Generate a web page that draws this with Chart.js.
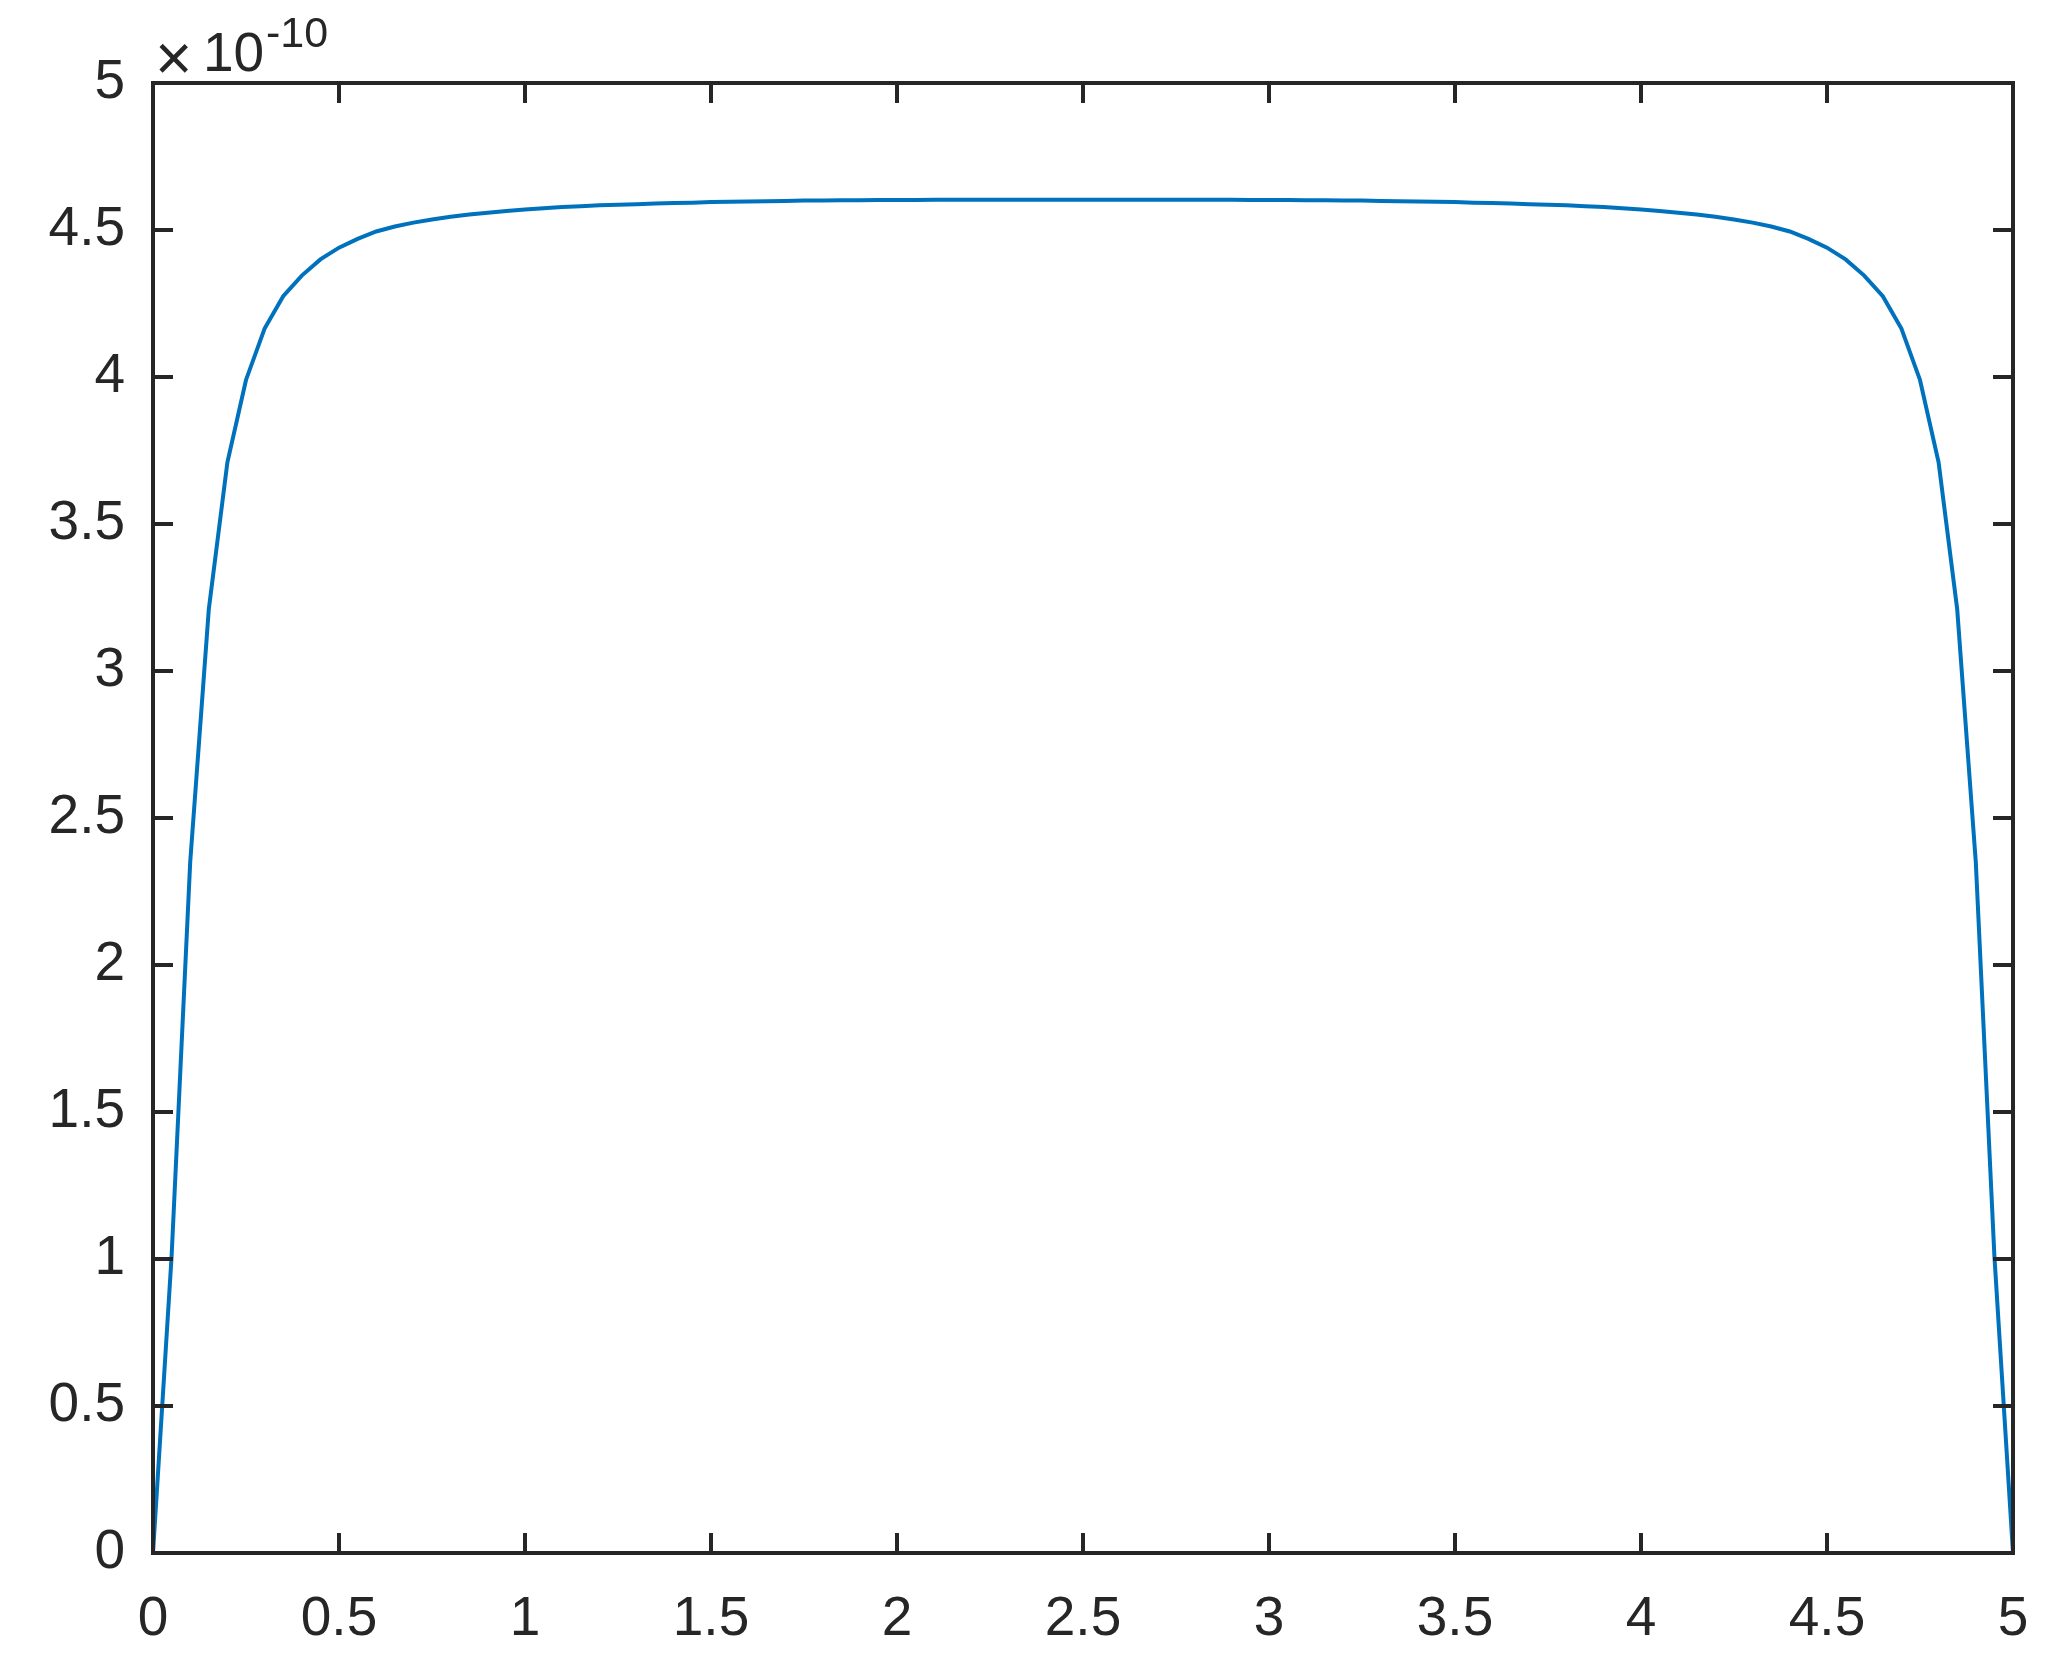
<!DOCTYPE html>
<html>
<head>
<meta charset="utf-8">
<script src="https://cdn.jsdelivr.net/npm/chart.js@4/dist/chart.umd.min.js"></script>
<style>
  html, body { margin: 0; padding: 0; background: #fff; }
  canvas { display: block; }
</style>
</head>
<body>
<canvas id="plot" width="2064" height="1680"></canvas>
<script>
// x positions of the samples
const xValues = [
  0, 0.05, 0.1, 0.15, 0.2, 0.25, 0.3, 0.35, 0.4, 0.45,
  0.5, 0.55, 0.6, 0.65, 0.7, 0.75, 0.8, 0.85, 0.9, 0.95,
  1, 1.05, 1.1, 1.15, 1.2, 1.25, 1.3, 1.35, 1.4, 1.45,
  1.5, 1.55, 1.6, 1.65, 1.7, 1.75, 1.8, 1.85, 1.9, 1.95,
  2, 2.05, 2.1, 2.15, 2.2, 2.25, 2.3, 2.35, 2.4, 2.45,
  2.5, 2.55, 2.6, 2.65, 2.7, 2.75, 2.8, 2.85, 2.9, 2.95,
  3, 3.05, 3.1, 3.15, 3.2, 3.25, 3.3, 3.35, 3.4, 3.45,
  3.5, 3.55, 3.6, 3.65, 3.7, 3.75, 3.8, 3.85, 3.9, 3.95,
  4, 4.05, 4.1, 4.15, 4.2, 4.25, 4.3, 4.35, 4.4, 4.45,
  4.5, 4.55, 4.6, 4.65, 4.7, 4.75, 4.8, 4.85, 4.9, 4.95,
  5
]

// y values, in units of 1e-10
const yValues = [
  0, 1.01, 2.35, 3.21, 3.71, 3.99, 4.165, 4.275, 4.345, 4.40,
  4.44, 4.47, 4.495, 4.512, 4.525, 4.536, 4.545, 4.553, 4.559, 4.565,
  4.570, 4.574, 4.578, 4.581, 4.584, 4.586, 4.588, 4.590, 4.592, 4.593,
  4.595, 4.596, 4.597, 4.598, 4.599, 4.600, 4.600, 4.601, 4.601, 4.602,
  4.602, 4.602, 4.603, 4.603, 4.603, 4.603, 4.603, 4.603, 4.603, 4.603,
  4.603, 4.603, 4.603, 4.603, 4.603, 4.603, 4.603, 4.603, 4.603, 4.602,
  4.602, 4.602, 4.601, 4.601, 4.600, 4.600, 4.599, 4.598, 4.597, 4.596,
  4.595, 4.593, 4.592, 4.590, 4.588, 4.586, 4.584, 4.581, 4.578, 4.574,
  4.570, 4.565, 4.559, 4.553, 4.545, 4.536, 4.525, 4.512, 4.495, 4.47,
  4.44, 4.40, 4.345, 4.275, 4.165, 3.99, 3.71, 3.21, 2.35, 1.01,
  0
]

const xRange = [0, 5]
const yRange = [0, 5]
const tickStep = 0.5
const exponentText = "-10"

const axisColor = "#262626"
const lineColor = "#0072BD"
const fontFamily = "'Liberation Sans', Arial, Helvetica, sans-serif"

// matlab prints 1 instead of 1.0
const plainTick = (value) => String(Math.round(value * 100) / 100)

// draws the box with inward ticks on all four sides,
// plus the x10^-10 multiplier above the y axis
const boxPlugin = {
  id: "box",
  afterDraw(chart) {
    const { ctx, chartArea: a, scales } = chart
    const tickLen = 20
    ctx.save()
    ctx.strokeStyle = axisColor
    ctx.lineWidth = 4
    ctx.lineCap = "butt"
    ctx.beginPath()
    scales.x.ticks.forEach((t) => {
      const px = Math.round(scales.x.getPixelForValue(t.value))
      ctx.moveTo(px, a.bottom)
      ctx.lineTo(px, a.bottom - tickLen)
      ctx.moveTo(px, a.top)
      ctx.lineTo(px, a.top + tickLen)
    })
    scales.y.ticks.forEach((t) => {
      const py = Math.round(scales.y.getPixelForValue(t.value))
      ctx.moveTo(a.left, py)
      ctx.lineTo(a.left + tickLen, py)
      ctx.moveTo(a.right, py)
      ctx.lineTo(a.right - tickLen, py)
    })
    ctx.stroke()
    ctx.strokeRect(a.left, a.top, a.right - a.left, a.bottom - a.top)

    // multiplier label
    ctx.fillStyle = axisColor
    ctx.textBaseline = "alphabetic"
    ctx.textAlign = "left"
    ctx.font = "64px " + fontFamily
    ctx.fillText("\u00d7", a.left + 2, a.top - 3)
    ctx.font = "55px " + fontFamily
    ctx.fillText("10", a.left + 50, a.top - 12)
    ctx.font = "43px " + fontFamily
    ctx.fillText(exponentText, a.left + 113, a.top - 36)
    ctx.restore()
  }
}

const points = xValues.map((x, i) => ({ x: x, y: yValues[i] }))

new Chart(document.getElementById("plot"), {
  type: "line",
  data: {
    datasets: [{
      data: points,
      borderColor: lineColor,
      borderWidth: 4,
      pointRadius: 0,
      tension: 0,
      fill: false
    }]
  },
  options: {
    responsive: false,
    animation: false,
    devicePixelRatio: 1,
    layout: { padding: { top: 83, right: 51, left: 0, bottom: 0 } },
    plugins: { legend: { display: false }, tooltip: { enabled: false } },
    scales: {
      x: {
        type: "linear",
        min: xRange[0],
        max: xRange[1],
        grid: { display: false, drawTicks: false },
        border: { display: false },
        ticks: {
          stepSize: tickStep,
          maxRotation: 0,
          padding: 34,
          color: axisColor,
          font: { family: fontFamily, size: 55 },
          callback: plainTick
        },
        afterFit: (scale) => {
          scale.height = 127
          scale.paddingLeft = 0
          scale.paddingRight = 0
        }
      },
      y: {
        type: "linear",
        min: yRange[0],
        max: yRange[1],
        grid: { display: false, drawTicks: false },
        border: { display: false },
        ticks: {
          stepSize: tickStep,
          padding: 28,
          color: axisColor,
          font: { family: fontFamily, size: 55 },
          callback: plainTick
        },
        afterFit: (scale) => {
          scale.width = 153
          scale.paddingTop = 0
          scale.paddingBottom = 0
        }
      }
    }
  },
  plugins: [boxPlugin]
})
</script>
</body>
</html>
